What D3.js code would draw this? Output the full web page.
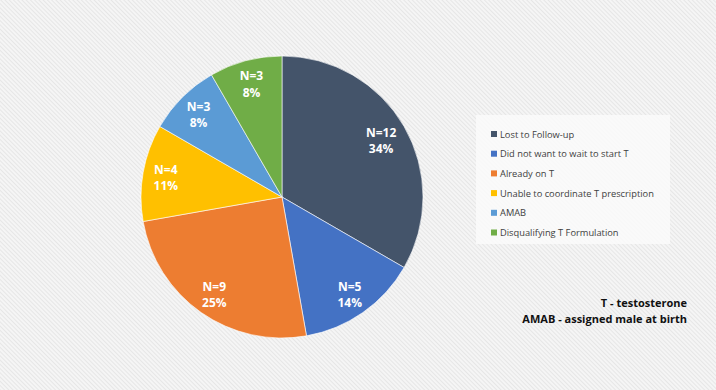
<!DOCTYPE html>
<html>
<head>
<meta charset="utf-8">
<script src="https://cdn.jsdelivr.net/npm/d3@7"></script>
<style>
  body { margin: 0; background: #f3f3f3; }
  svg { display: block; }
</style>
</head>
<body>
<div class="box"></div>
<script>
// Data
const categories = ["Lost to Follow-up", "Did not want to wait to start T", "Already on T",
                    "Unable to coordinate T prescription", "AMAB", "Disqualifying T Formulation"];
const counts = [12, 5, 9, 4, 3, 3];
const percentLabels = ["34%", "14%", "25%", "11%", "8%", "8%"];
const colors = ["#44546a", "#4472c4", "#ed7d31", "#ffc000", "#5b9bd5", "#70ad47"];
const notes = ["T - testosterone", "AMAB - assigned male at birth"];

// Vars for the svg "box"
const w = 716;
const h = 390;
const cx = 282;
const cy = 197;
const radius = 141;

const svg = d3.select(".box")
            .append("svg")
            .attr("width", w)
            .attr("height", h);

// Hatched background like the original slide
const defs = svg.append("defs");
const pat = defs.append("pattern")
    .attr("id", "hatch")
    .attr("width", 3)
    .attr("height", 3)
    .attr("patternUnits", "userSpaceOnUse")
    .attr("patternTransform", "rotate(-45)");
pat.append("rect").attr("width", 3).attr("height", 3).attr("fill", "#f5f5f5");
pat.append("rect").attr("width", 1).attr("height", 3).attr("fill", "#e6e6e6");

svg.append("rect")
    .attr("width", w)
    .attr("height", h)
    .attr("fill", "url(#hatch)");

// Pie
const data = categories.map((c, i) => ({name: c, n: counts[i], pct: percentLabels[i], color: colors[i]}));

const pie = d3.pie()
    .value(d => d.n)
    .sort(null);

const arc = d3.arc()
    .innerRadius(0)
    .outerRadius(radius);

const labelArc = d3.arc()
    .innerRadius(118)
    .outerRadius(118);

const g = svg.append("g")
    .attr("transform", "translate(" + cx + "," + cy + ")");

const arcs = pie(data);

g.selectAll("path")
    .data(arcs)
    .enter()
    .append("path")
    .attr("d", arc)
    .attr("fill", d => d.data.color)
    .attr("stroke", "#ffffff")
    .attr("stroke-width", 0.6);

// label centre for each slice (first one sits a bit closer to the middle)
function labelPos(d, i) {
    const c = labelArc.centroid(d);
    if (i === 0) { c[0] *= 0.97; c[1] *= 0.97; }
    return c;
}

const labelGroups = g.selectAll(".lbl")
    .data(arcs)
    .enter()
    .append("g")
    .attr("class", "lbl")
    .attr("transform", (d, i) => {
        const c = labelPos(d, i);
        return "translate(" + c[0] + "," + c[1] + ")";
    })
    .style("font-family", "Open Sans")
    .style("font-size", "12px")
    .style("font-weight", "bold")
    .attr("fill", "#ffffff")
    .attr("text-anchor", "middle");

labelGroups.append("text")
    .attr("y", -3)
    .text(d => "N=" + d.data.n);

labelGroups.append("text")
    .attr("y", 13.5)
    .text(d => d.data.pct);

// Legend
const legend = svg.append("g");

legend.append("rect")
    .attr("x", 476)
    .attr("y", 115)
    .attr("width", 194)
    .attr("height", 129)
    .attr("fill", "#fafafa")
    .attr("opacity", 0.85);

const items = legend.selectAll(".item")
    .data(data)
    .enter()
    .append("g")
    .attr("class", "item")
    .attr("transform", (d, i) => "translate(491," + (134 + i * 19.7) + ")");

items.append("rect")
    .attr("x", 0)
    .attr("y", -3)
    .attr("width", 6)
    .attr("height", 6)
    .attr("fill", d => d.color);

items.append("text")
    .attr("x", 9)
    .attr("y", 3.5)
    .style("font-family", "Open Sans")
    .style("font-size", "9.3px")
    .attr("fill", "#404040")
    .text(d => d.name);

// Notes at bottom right
svg.selectAll(".note")
    .data(notes)
    .enter()
    .append("text")
    .attr("class", "note")
    .attr("x", 687)
    .attr("y", (d, i) => 307 + i * 16)
    .attr("text-anchor", "end")
    .style("font-family", "Open Sans")
    .style("font-size", "11px")
    .style("font-weight", "bold")
    .attr("fill", "#111111")
    .text(d => d);
</script>
</body>
</html>
